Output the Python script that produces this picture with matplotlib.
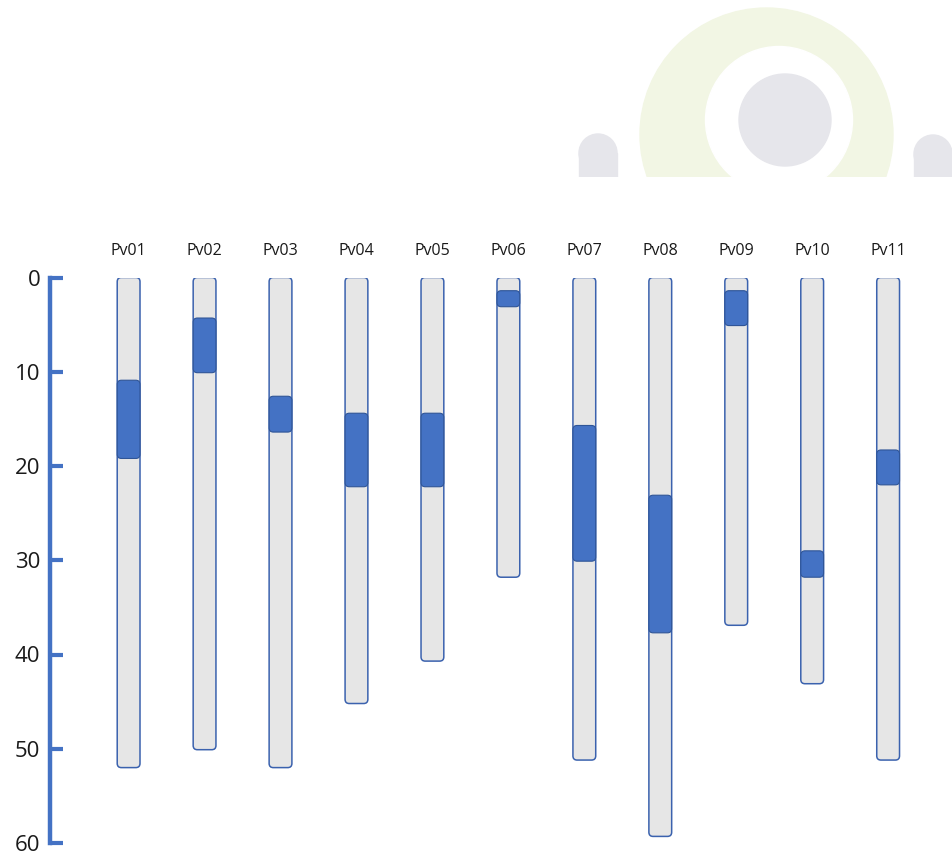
import matplotlib
matplotlib.use('Agg')
import matplotlib.pyplot as plt
from matplotlib.patches import FancyBboxPatch, Circle, Rectangle

plt.rcParams['font.family'] = ['Open Sans', 'DejaVu Sans']

# chromosome names, lengths and highlighted region (start / end)
chroms = ['Pv01', 'Pv02', 'Pv03', 'Pv04', 'Pv05', 'Pv06', 'Pv07', 'Pv08', 'Pv09', 'Pv10', 'Pv11']
lengths = [52.0, 50.1, 52.0, 45.2, 40.7, 31.8, 51.2, 59.3, 36.9, 43.1, 51.2]
band_start = [10.9, 4.3, 12.6, 14.4, 14.4, 1.4, 15.7, 23.1, 1.4, 29.0, 18.3]
band_end = [19.2, 10.1, 16.4, 22.2, 22.2, 3.1, 30.1, 37.7, 5.1, 31.8, 22.0]
yticks = [0, 10, 20, 30, 40, 50, 60]

blue = '#4472C4'
edge = '#3B62AE'
grey = '#E6E6E6'

W, H = 953, 852
fig = plt.figure(figsize=(W / 100, H / 100), dpi=100)

# faint logo in the top right corner
deco = fig.add_axes([0, 0, 1, 1], zorder=0)
deco.set_xlim(0, W)
deco.set_ylim(H, 0)
deco.axis('off')
clip = Rectangle((0, 0), W, 177, transform=deco.transData)
pieces = [
    Circle((766.5, 134.5), 126.5, color='#F2F6E4'),
    Circle((779, 120), 73.5, color='white'),
    Circle((785, 120), 46, color='#E6E6EB'),
    Circle((598, 153), 19, color='#E6E6EB'),
    Rectangle((579, 153), 38, 30, color='#E6E6EB'),
    Circle((933, 154), 19, color='#E6E6EB'),
    Rectangle((914, 154), 38, 30, color='#E6E6EB'),
]
for p in pieces:
    deco.add_patch(p)
    p.set_clip_path(clip)

# main axes: 75.95 px per x unit and 9.41 px per y unit
ax = fig.add_axes([50 / W, 1 - 843 / H, 1 - 50 / W, (843 - 277.5) / H], zorder=1)
ax.patch.set_alpha(0)
ax.set_xlim(-1.035, 10.854)
ax.set_ylim(60, 0)
aspect = 75.95 / 9.41
bw = 0.30
r = 0.055

for i, name in enumerate(chroms):
    body = FancyBboxPatch((i - bw / 2, 0), bw, lengths[i],
                          boxstyle='round,pad=0,rounding_size=%g' % r,
                          mutation_aspect=aspect, facecolor=grey,
                          edgecolor=edge, linewidth=1.1, zorder=2)
    ax.add_patch(body)
    band = FancyBboxPatch((i - bw / 2, band_start[i]), bw, band_end[i] - band_start[i],
                          boxstyle='round,pad=0,rounding_size=%g' % r,
                          mutation_aspect=aspect, facecolor=blue,
                          edgecolor='#2F5597', linewidth=0.8, zorder=3)
    ax.add_patch(band)
    ax.text(i, -2.8, name, ha='center', va='center', fontsize=11.5,
            color='#1a1a1a', clip_on=False)

for s in ['top', 'right', 'bottom']:
    ax.spines[s].set_visible(False)
ax.spines['left'].set_color(blue)
ax.spines['left'].set_linewidth(3.2)
ax.set_xticks([])
ax.set_yticks(yticks)
ax.tick_params(axis='y', direction='in', length=9, width=3, color=blue,
               labelsize=16, labelcolor='#1a1a1a', pad=7)
for lab in ax.get_yticklabels():
    lab.set_va('center_baseline')

fig.savefig('out.png', dpi=100)
